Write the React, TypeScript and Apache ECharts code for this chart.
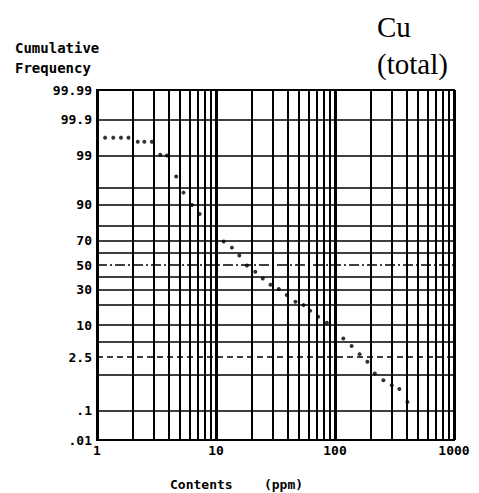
import React, { useEffect, useRef } from "react";
import * as echarts from "echarts";

// Contents (ppm)
const contents = [
  1.17, 1.37, 1.59, 1.84, 2.2, 2.5, 2.89, 3.4, 3.87, 4.63, 5.33, 6.28, 7.28,
  11.6, 13.6, 15.7, 18.2, 21.4, 24.7, 28.7, 33.7, 39.3, 46.5, 54.4, 61.7, 72.1,
  85.5, 117.5, 138, 161, 187, 216, 255, 300, 347, 406,
];
// Cumulative frequency (%)
const cumFreq = [
  99.66, 99.66, 99.66, 99.66, 99.56, 99.56, 99.56, 99.04, 99.0, 96.99, 93.8,
  89.9, 86.1, 69.1, 64.4, 58.0, 49.6, 44.3, 38.7, 33.8, 30.5, 26.2, 21.7, 19.7,
  16.6, 13.6, 11.0, 5.94, 4.24, 2.91, 1.98, 1.06, 0.72, 0.53, 0.42, 0.18,
];
const yTickValues = [0.01, 0.1, 2.5, 10, 30, 50, 70, 90, 99, 99.9, 99.99];
const yTickLabels = [".01", ".1", "2.5", "10", "30", "50", "70", "90", "99", "99.9", "99.99"];
const yGridLines = [0.1, 1, 5, 10, 20, 30, 40, 60, 70, 80, 90, 95, 99, 99.9];
const yDashed = [2.5];
const yDashDot = [50];
const xMinorLines = [
  2, 3, 4, 5, 6, 7, 8, 9, 20, 30, 40, 50, 60, 70, 80, 90, 200, 300, 400, 500,
  600, 700, 800, 900,
];
const xLabels = ["1", "10", "100", "1000"];

function probit(p: number): number {
  const a = [-3.969683028665376e1, 2.209460984245205e2, -2.759285104469687e2, 1.38357751867269e2, -3.066479806614716e1, 2.506628277459239];
  const b = [-5.447609879822406e1, 1.615858368580409e2, -1.556989798598866e2, 6.680131188771972e1, -1.328068155288572e1];
  const c = [-7.784894002430293e-3, -3.223964580411365e-1, -2.400758277161838, -2.549732539343734, 4.374664141464968, 2.938163982698783];
  const d = [7.784695709041462e-3, 3.224671290700398e-1, 2.445134137142996, 3.754408661907416];
  const pl = 0.02425;
  const ph = 1 - pl;
  let q: number, r: number;
  if (p < pl) {
    q = Math.sqrt(-2 * Math.log(p));
    return (((((c[0] * q + c[1]) * q + c[2]) * q + c[3]) * q + c[4]) * q + c[5]) / ((((d[0] * q + d[1]) * q + d[2]) * q + d[3]) * q + 1);
  }
  if (p <= ph) {
    q = p - 0.5;
    r = q * q;
    return ((((((a[0] * r + a[1]) * r + a[2]) * r + a[3]) * r + a[4]) * r + a[5]) * q) / (((((b[0] * r + b[1]) * r + b[2]) * r + b[3]) * r + b[4]) * r + 1);
  }
  q = Math.sqrt(-2 * Math.log(1 - p));
  return -(((((c[0] * q + c[1]) * q + c[2]) * q + c[3]) * q + c[4]) * q + c[5]) / ((((d[0] * q + d[1]) * q + d[2]) * q + d[3]) * q + 1);
}
const z = (pct: number) => probit(pct / 100);

const MONO = "'DejaVu Sans Mono', monospace";

export default function App() {
  const ref = useRef<HTMLDivElement>(null);
  useEffect(() => {
    if (!ref.current) return;
    const chart = echarts.init(ref.current, undefined, { renderer: "svg" });
    const yTickZ = yTickValues.map(z);
    const lineData: any[] = [];
    yGridLines.forEach((v) =>
      lineData.push({ yAxis: z(v), lineStyle: { color: "#000", width: 1.6, type: "solid" } })
    );
    yDashed.forEach((v) =>
      lineData.push({ yAxis: z(v), lineStyle: { color: "#000", width: 1.6, type: [6, 4] } })
    );
    yDashDot.forEach((v) =>
      lineData.push({ yAxis: z(v), lineStyle: { color: "#000", width: 1.6, type: [10, 3, 2, 3] } })
    );
    xMinorLines.forEach((v) =>
      lineData.push({ xAxis: v, lineStyle: { color: "#000", width: 2, type: "solid" } })
    );
    const option: any = {
      animation: false,
      grid: {
        left: 97,
        right: 25,
        top: 90,
        bottom: 53,
        show: true,
        borderColor: "#000",
        borderWidth: 2,
        backgroundColor: "#fff",
      },
      xAxis: {
        type: "log",
        logBase: 10,
        min: 1,
        max: 1000,
        axisLine: { show: false },
        axisTick: { show: false },
        splitLine: { show: true, lineStyle: { color: "#000", width: 3 } },
        axisLabel: {
          color: "#000",
          fontFamily: MONO,
          fontWeight: "bold",
          fontSize: 13,
          margin: 4,
          formatter: (v: number) => xLabels[Math.round(Math.log10(v))] ?? "",
        },
      },
      yAxis: {
        type: "value",
        min: z(0.01),
        max: z(99.99),
        axisLine: { show: false },
        axisTick: { show: false },
        splitLine: { show: false },
        axisLabel: {
          color: "#000",
          fontFamily: MONO,
          fontWeight: "bold",
          fontSize: 13,
          margin: 5,
          customValues: yTickZ,
          formatter: (v: number) => {
            let best = 0;
            let bd = Infinity;
            yTickZ.forEach((t, i) => {
              const dd = Math.abs(t - v);
              if (dd < bd) {
                bd = dd;
                best = i;
              }
            });
            return yTickLabels[best];
          },
        },
      },
      series: [
        {
          type: "scatter",
          symbol: "circle",
          symbolSize: 4,
          itemStyle: { color: "#000" },
          data: contents.map((c, i) => [c, z(cumFreq[i])]),
          z: 5,
          markLine: {
            silent: true,
            symbol: ["none", "none"],
            label: { show: false },
            data: lineData,
          },
        },
      ],
      graphic: [
        { type: "text", left: 15, top: 41, style: { text: "Cumulative", font: `bold 14px ${MONO}`, fill: "#000" } },
        { type: "text", left: 15, top: 61, style: { text: "Frequency", font: `bold 14px ${MONO}`, fill: "#000" } },
        { type: "text", left: 377, top: 12, style: { text: "Cu", font: "29px 'Liberation Serif', serif", fill: "#000" } },
        { type: "text", left: 377, top: 49, style: { text: "(total)", font: "29px 'Liberation Serif', serif", fill: "#000" } },
        { type: "text", left: 170, top: 478, style: { text: "Contents    (ppm)", font: `bold 13px ${MONO}`, fill: "#000" } },
      ],
    };
    chart.setOption(option);
    return () => chart.dispose();
  }, []);
  return (
    <div
      ref={ref}
      style={{ position: "absolute", left: 0, top: 0, width: 479, height: 493, background: "#fff" }}
    />
  );
}
